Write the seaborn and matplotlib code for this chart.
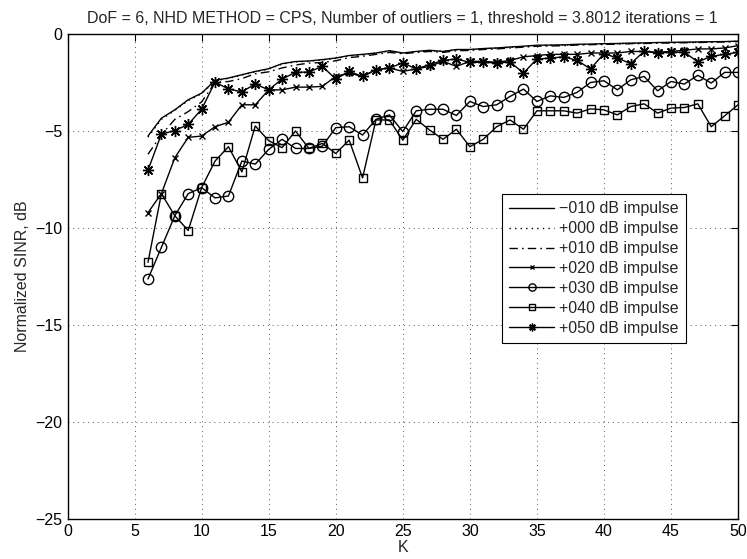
import numpy as np
import pandas as pd
import matplotlib
matplotlib.use("Agg")
import matplotlib.pyplot as plt
import seaborn as sns

K = list(range(6, 51))

s_m010 = [-5.26, -4.34, -3.91, -3.39, -3.05, -2.39, -2.27, -2.10, -1.93, -1.79,
          -1.53, -1.42, -1.39, -1.32, -1.24, -1.11, -1.05, -0.98, -0.86, -0.98,
          -0.90, -0.84, -0.90, -0.80, -0.80, -0.75, -0.72, -0.67, -0.63, -0.58,
          -0.57, -0.56, -0.53, -0.52, -0.50, -0.49, -0.47, -0.46, -0.44, -0.43,
          -0.42, -0.41, -0.40, -0.39, -0.37]
s_p000 = [-5.32, -4.40, -3.94, -3.43, -3.08, -2.41, -2.29, -2.12, -1.95, -1.81,
          -1.55, -1.44, -1.41, -1.34, -1.26, -1.13, -1.07, -0.99, -0.88, -0.99,
          -0.92, -0.86, -0.90, -0.82, -0.81, -0.76, -0.73, -0.69, -0.65, -0.60,
          -0.59, -0.57, -0.55, -0.54, -0.51, -0.50, -0.49, -0.47, -0.46, -0.45,
          -0.44, -0.43, -0.41, -0.40, -0.38]
s_p010 = [-6.20, -5.20, -4.40, -4.00, -3.50, -2.50, -2.45, -2.30, -2.05, -1.95,
          -1.75, -1.60, -1.50, -1.47, -1.38, -1.22, -1.15, -1.05, -0.95, -1.02,
          -0.95, -0.90, -0.95, -0.86, -0.85, -0.80, -0.77, -0.72, -0.68, -0.63,
          -0.62, -0.60, -0.57, -0.55, -0.54, -0.52, -0.50, -0.49, -0.47, -0.46,
          -0.45, -0.44, -0.42, -0.41, -0.39]
s_p020 = [-9.21, -8.23, -6.38, -5.33, -5.26, -4.78, -4.55, -3.65, -3.65, -2.88,
          -2.88, -2.74, -2.74, -2.70, -2.19, -2.01, -2.19, -1.84, -1.75, -1.93,
          -1.80, -1.67, -1.41, -1.67, -1.41, -1.41, -1.46, -1.36, -1.18, -1.11,
          -1.05, -1.05, -1.05, -0.98, -0.98, -0.98, -0.90, -0.90, -0.94, -0.90,
          -0.84, -0.77, -0.77, -0.72, -0.60]
s_p030 = [-12.63, -11.00, -9.37, -8.23, -7.92, -8.45, -8.35, -6.55, -6.71, -5.95,
          -5.43, -5.90, -5.90, -5.78, -4.83, -4.78, -5.21, -4.40, -4.17, -5.03,
          -3.96, -3.88, -3.88, -4.20, -3.48, -3.74, -3.65, -3.22, -2.84, -3.48,
          -3.19, -3.27, -3.01, -2.50, -2.41, -2.88, -2.36, -2.19, -2.93, -2.45,
          -2.58, -2.13, -2.53, -1.98, -1.98]
s_p040 = [-11.77, -8.23, -9.37, -10.13, -7.92, -6.55, -5.81, -7.11, -4.74, -5.50,
          -5.86, -5.00, -5.90, -5.64, -6.16, -5.47, -7.42, -4.43, -4.43, -5.47,
          -4.40, -4.95, -5.43, -4.91, -5.81, -5.43, -4.78, -4.43, -4.91, -3.96,
          -3.96, -3.96, -4.08, -3.86, -3.91, -4.17, -3.74, -3.60, -4.08, -3.82,
          -3.79, -3.60, -4.78, -4.22, -3.65]
s_p050 = [-7.02, -5.16, -4.98, -4.66, -3.88, -2.48, -2.84, -2.98, -2.58, -2.88,
          -2.32, -1.98, -1.96, -1.67, -2.32, -1.93, -2.19, -1.84, -1.75, -1.49,
          -1.80, -1.58, -1.36, -1.29, -1.46, -1.46, -1.49, -1.44, -2.01, -1.29,
          -1.24, -1.18, -1.36, -1.80, -1.01, -1.24, -1.53, -0.89, -0.98, -0.94,
          -0.94, -1.44, -1.15, -1.05, -0.94]

labels = ["\u2212010 dB impulse", "+000 dB impulse", "+010 dB impulse",
          "+020 dB impulse", "+030 dB impulse", "+040 dB impulse",
          "+050 dB impulse"]
series = [s_m010, s_p000, s_p010, s_p020, s_p030, s_p040, s_p050]

title = "DoF = 6, NHD METHOD = CPS, Number of outliers = 1, threshold = 3.8012 iterations = 1"

sns.set_style("white")
plt.rcParams['font.family'] = ['Liberation Sans', 'DejaVu Sans']
plt.rcParams['axes.unicode_minus'] = True

FS = 11.5

fig = plt.figure(figsize=(7.47, 5.59), dpi=100)
ax = fig.add_axes([0.0904, 0.0716, 0.8976, 0.8676])

styles = [
    dict(linestyle='-', marker=None),
    dict(linestyle=(0, (1, 3)), marker=None),
    dict(linestyle=(0, (6, 3, 1.2, 3)), marker=None),
    dict(linestyle='-', marker='x', markersize=5, markeredgewidth=1.0),
    dict(linestyle='-', marker='o', markersize=7.5, markerfacecolor='none', markeredgewidth=1.0),
    dict(linestyle='-', marker='s', markersize=6, markerfacecolor='none', markeredgewidth=1.0),
    dict(linestyle='-', marker=(8, 2, 0), markersize=8, markeredgewidth=1.0),
]

for vals, lab, st in zip(series, labels, styles):
    df = pd.DataFrame({"K": K, "v": vals})
    kw = dict(st)
    if kw.get('marker') is None:
        kw.pop('marker')
    sns.lineplot(data=df, x="K", y="v", ax=ax, color='k', linewidth=1.0,
                 markeredgecolor='k', label=lab, legend=False, **kw)

ax.set_xlim(0, 50)
ax.set_ylim(-25, 0)
ax.set_xticks(np.arange(0, 51, 5))
ax.set_yticks(np.arange(-25, 1, 5))
ax.grid(True, linestyle=(0, (1, 4)), color='0.35', linewidth=0.7)
ax.tick_params(direction='in', length=5, width=0.8, top=True, right=True,
               labelsize=FS, pad=3.5, colors='k')
for sp in ax.spines.values():
    sp.set_visible(True)
    sp.set_color('k')
    sp.set_linewidth(1.0)

ax.set_title(title, fontsize=FS, pad=8)
ax.set_xlabel("K", fontsize=FS, labelpad=1)
ax.set_ylabel("Normalized SINR, dB", fontsize=FS, labelpad=4)

leg = ax.legend(loc='upper left', bbox_to_anchor=(0.648, 0.670), borderaxespad=0,
                fontsize=FS, frameon=True, fancybox=False, framealpha=1,
                edgecolor='k', handlelength=2.8, handletextpad=0.3,
                labelspacing=0.31, borderpad=0.45, markerscale=0.7)
leg.get_frame().set_linewidth(0.8)

fig.savefig("out.png", dpi=100)
